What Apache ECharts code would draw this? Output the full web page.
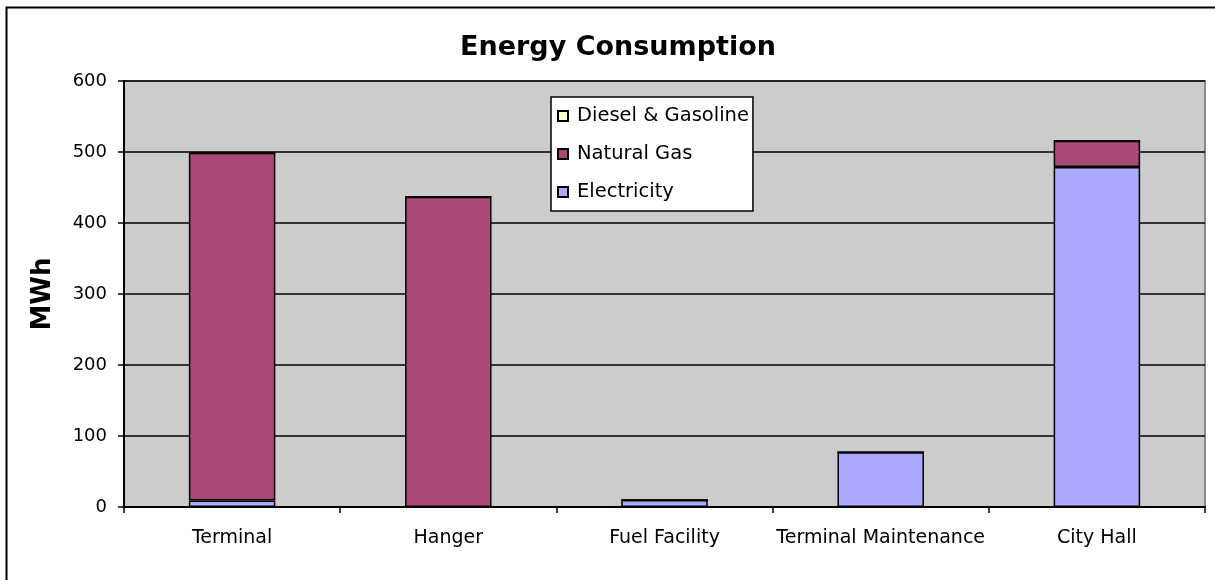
<!DOCTYPE html>
<html>
<head>
<meta charset="utf-8">
<script src="https://cdn.jsdelivr.net/npm/echarts@6/dist/echarts.min.js"></script>
<style>html,body{margin:0;padding:0;background:#fff}#c{width:1215px;height:580px}</style>
</head>
<body>
<div id="c"></div>
<script>
const categories = ['Terminal', 'Hanger', 'Fuel Facility', 'Terminal Maintenance', 'City Hall'];
const electricity = [9, 0, 10, 77, 479];
const naturalGas = [490, 437, 0, 0, 37];
const dieselGasoline = [0, 0, 0, 0, 0];
const yTicks = [0, 100, 200, 300, 400, 500, 600];

const chart = echarts.init(document.getElementById('c'), null, {renderer: 'canvas'});
const font = '"DejaVu Sans", Arial, sans-serif';
const barStyle = (color) => ({color: color, borderColor: '#000', borderWidth: 1.5});
chart.setOption({
  animation: false,
  backgroundColor: '#fff',
  textStyle: {fontFamily: font},
  title: {
    text: 'Energy Consumption', left: 613, top: 29, textAlign: 'center',
    textStyle: {fontFamily: font, fontSize: 27, fontWeight: 'bold', color: '#000'}
  },
  graphic: [{
    type: 'rect', left: 4, top: 5, z: 100, silent: true,
    shape: {width: 1230, height: 600},
    style: {fill: 'none', stroke: '#000', lineWidth: 2}
  }],
  legend: {
    orient: 'vertical', left: 551, top: 97,
    data: ['Diesel & Gasoline', 'Natural Gas', 'Electricity'],
    backgroundColor: '#fff', borderColor: '#000', borderWidth: 1.5,
    padding: [9, 4, 9, 6], itemGap: 18, itemWidth: 10, itemHeight: 10,
    icon: 'rect', selectedMode: false,
    textStyle: {fontFamily: font, fontSize: 19.5, color: '#000', padding: [0, 0, 0, 4]}
  },
  grid: {
    left: 124, right: 10, top: 81, bottom: 73, containLabel: false,
    show: true, backgroundColor: '#CCCCCC', borderColor: '#888888', borderWidth: 2
  },
  xAxis: {
    type: 'category', data: categories,
    axisLine: {lineStyle: {color: '#000', width: 2}},
    axisTick: {show: true, interval: 0, length: 6, lineStyle: {color: '#000', width: 1.5}},
    axisLabel: {interval: 0, hideOverlap: false, fontFamily: font, fontSize: 19, color: '#000', margin: 22}
  },
  yAxis: {
    type: 'value', min: 0, max: 600, interval: 100,
    name: 'MWh', nameLocation: 'middle', nameGap: 68, nameRotate: 90,
    nameTextStyle: {fontFamily: font, fontSize: 26, fontWeight: 'bold', color: '#000'},
    axisLine: {show: true, lineStyle: {color: '#000', width: 2}},
    axisTick: {show: true, length: 6, lineStyle: {color: '#000', width: 1.5}},
    splitLine: {show: true, lineStyle: {color: '#000', width: 1.5}},
    axisLabel: {fontFamily: font, fontSize: 18, color: '#000', margin: 17,
      formatter: (v) => yTicks.includes(v) ? String(v) : ''}
  },
  series: [
    {name: 'Electricity', type: 'bar', stack: 'e', data: electricity, barWidth: '40%', itemStyle: barStyle('#AAAAFF')},
    {name: 'Natural Gas', type: 'bar', stack: 'e', data: naturalGas, barWidth: '40%', itemStyle: barStyle('#A94A76')},
    {name: 'Diesel & Gasoline', type: 'bar', stack: 'e', data: dieselGasoline, barWidth: '40%', itemStyle: barStyle('#FFFFCC')}
  ]
});
</script>
</body>
</html>
